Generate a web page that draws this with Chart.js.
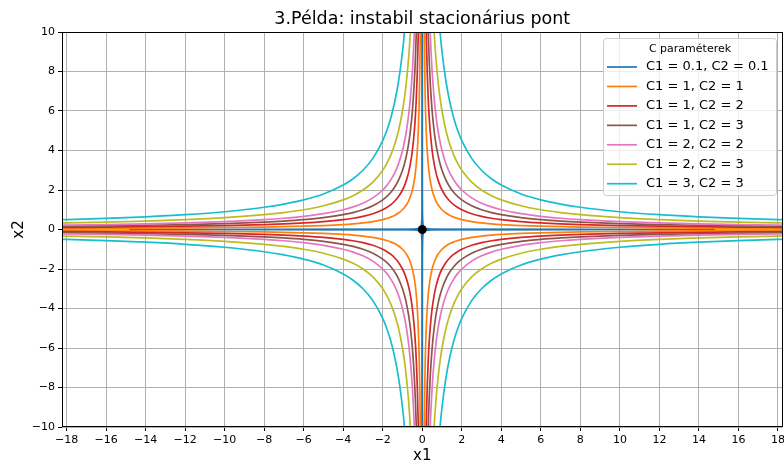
<!DOCTYPE html>
<html>
<head>
<meta charset="utf-8">
<script src="https://cdn.jsdelivr.net/npm/chart.js@4.4.1/dist/chart.umd.min.js"></script>
<style>
  html, body { margin: 0; padding: 0; background: #fff; overflow: hidden; }
</style>
</head>
<body>
<!-- 4px wider than the window: Chart.js reserves room for the "18" label, matplotlib lets it hang over -->
<canvas id="chart" width="788" height="464"></canvas>
<script>
// legend labels and colours
const labels = ['C1 = 0.1, C2 = 0.1', 'C1 = 1, C2 = 1', 'C1 = 1, C2 = 2', 'C1 = 1, C2 = 3',
                'C1 = 2, C2 = 2', 'C1 = 2, C2 = 3', 'C1 = 3, C2 = 3'];
const colors = ['#1f77b4', '#ff7f0e', '#d62728', '#8c564b', '#e377c2', '#bcbd22', '#17becf'];

// first quadrant branch of each curve (mirrored into the other three)
const blueX = [0.00067, 0.001, 0.002, 0.005, 0.01, 0.02, 0.05, 0.1, 0.2, 0.5, 1, 2, 5, 10, 14.8];
const blueY = [14.8, 10, 5, 2, 1, 0.5, 0.2, 0.1, 0.05, 0.02, 0.01, 0.005, 0.002, 0.001, 0.00068];

const xs = [0.05, 0.07, 0.1, 0.12, 0.15, 0.2, 0.25, 0.3, 0.35, 0.4, 0.5, 0.6, 0.7, 0.8, 0.9, 1,
            1.2, 1.4, 1.6, 1.8, 2, 2.5, 3, 3.5, 4, 5, 6, 7, 8, 10, 12, 14, 16, 19];
const y11 = [20, 14.286, 10, 8.333, 6.667, 5, 4, 3.333, 2.857, 2.5, 2, 1.667, 1.429, 1.25, 1.111, 1,
             0.833, 0.714, 0.625, 0.556, 0.5, 0.4, 0.333, 0.286, 0.25, 0.2, 0.167, 0.143, 0.125, 0.1, 0.083, 0.071, 0.0625, 0.053];
const y12 = [40, 28.571, 20, 16.667, 13.333, 10, 8, 6.667, 5.714, 5, 4, 3.333, 2.857, 2.5, 2.222, 2,
             1.667, 1.429, 1.25, 1.111, 1, 0.8, 0.667, 0.571, 0.5, 0.4, 0.333, 0.286, 0.25, 0.2, 0.167, 0.143, 0.125, 0.105];
const y13 = [60, 42.857, 30, 25, 20, 15, 12, 10, 8.571, 7.5, 6, 5, 4.286, 3.75, 3.333, 3,
             2.5, 2.143, 1.875, 1.667, 1.5, 1.2, 1, 0.857, 0.75, 0.6, 0.5, 0.429, 0.375, 0.3, 0.25, 0.214, 0.1875, 0.158];
const y22 = [80, 57.143, 40, 33.333, 26.667, 20, 16, 13.333, 11.429, 10, 8, 6.667, 5.714, 5, 4.444, 4,
             3.333, 2.857, 2.5, 2.222, 2, 1.6, 1.333, 1.143, 1, 0.8, 0.667, 0.571, 0.5, 0.4, 0.333, 0.286, 0.25, 0.211];
const y23 = [120, 85.714, 60, 50, 40, 30, 24, 20, 17.143, 15, 12, 10, 8.571, 7.5, 6.667, 6,
             5, 4.286, 3.75, 3.333, 3, 2.4, 2, 1.714, 1.5, 1.2, 1, 0.857, 0.75, 0.6, 0.5, 0.429, 0.375, 0.316];
const y33 = [180, 128.571, 90, 75, 60, 45, 36, 30, 25.714, 22.5, 18, 15, 12.857, 11.25, 10, 9,
             7.5, 6.429, 5.625, 5, 4.5, 3.6, 3, 2.571, 2.25, 1.8, 1.5, 1.286, 1.125, 0.9, 0.75, 0.643, 0.5625, 0.474];

const xTicks = [-18, -16, -14, -12, -10, -8, -6, -4, -2, 0, 2, 4, 6, 8, 10, 12, 14, 16, 18];
const yTicks = [-10, -8, -6, -4, -2, 0, 2, 4, 6, 8, 10];

const curveX = [blueX, xs, xs, xs, xs, xs, xs];
const curveY = [blueY, y11, y12, y13, y22, y23, y33];
const quadrants = [[1, 1], [-1, 1], [1, -1], [-1, -1]];

const datasets = [];
labels.forEach((lab, i) => {
    quadrants.forEach(q => {
        datasets.push({
            label: lab,
            data: curveX[i].map((v, j) => ({ x: q[0] * v, y: q[1] * curveY[i][j] })),
            borderColor: colors[i],
            backgroundColor: colors[i],
            borderWidth: 1.7,
            showLine: true,
            pointRadius: 0,
            cubicInterpolationMode: 'monotone',
            capBezierPoints: false,
            clip: 0,
            order: 100 - i
        });
    });
});
// stationary point
datasets.push({
    label: 'origo',
    data: [{ x: 0, y: 0 }],
    pointRadius: 4,
    backgroundColor: '#000',
    borderColor: '#000',
    order: 0
});

const fmt = v => (v < 0 ? '\u2212' + Math.abs(v) : String(v));
const FONT = 'DejaVu Sans';

const decor = {
    id: 'decor',
    afterDatasetsDraw(chart) {
        const { ctx, chartArea: a } = chart;
        ctx.save();
        ctx.strokeStyle = '#000';
        ctx.lineWidth = 1;
        ctx.strokeRect(Math.round(a.left) + 0.5, Math.round(a.top) + 0.5,
                       Math.round(a.right - a.left) - 1, Math.round(a.bottom - a.top) - 1);
        ctx.restore();
    },
    afterDraw(chart) {
        const { ctx, chartArea: a } = chart;
        ctx.save();
        ctx.fillStyle = '#000';
        ctx.textAlign = 'center';
        ctx.textBaseline = 'middle';
        ctx.font = '17.5px "' + FONT + '"';
        ctx.fillText('3.Példa: instabil stacionárius pont', (a.left + a.right) / 2, 19);
        ctx.font = '15px "' + FONT + '"';
        ctx.fillText('x1', (a.left + a.right) / 2, 456);
        ctx.save();
        ctx.translate(19, (a.top + a.bottom) / 2);
        ctx.rotate(-Math.PI / 2);
        ctx.fillText('x2', 0, 0);
        ctx.restore();

        // legend box
        const bx = 603.5, by = 38.5, bw = 173, bh = 157, r = 3;
        ctx.beginPath();
        ctx.moveTo(bx + r, by);
        ctx.arcTo(bx + bw, by, bx + bw, by + bh, r);
        ctx.arcTo(bx + bw, by + bh, bx, by + bh, r);
        ctx.arcTo(bx, by + bh, bx, by, r);
        ctx.arcTo(bx, by, bx + bw, by, r);
        ctx.closePath();
        ctx.fillStyle = 'rgba(255,255,255,0.8)';
        ctx.fill();
        ctx.strokeStyle = '#cccccc';
        ctx.lineWidth = 1;
        ctx.stroke();

        ctx.fillStyle = '#000';
        ctx.font = '11px "' + FONT + '"';
        ctx.fillText('C paraméterek', bx + bw / 2, 49);
        ctx.textAlign = 'left';
        ctx.font = '13px "' + FONT + '"';
        labels.forEach((lab, i) => {
            const yy = 67 + i * 19.45;
            ctx.strokeStyle = colors[i];
            ctx.lineWidth = 1.7;
            ctx.beginPath();
            ctx.moveTo(607, yy);
            ctx.lineTo(637, yy);
            ctx.stroke();
            ctx.fillText(lab, 646, yy);
        });
        ctx.restore();
    }
};

new Chart(document.getElementById('chart'), {
    type: 'scatter',
    data: { datasets: datasets },
    options: {
        responsive: false,
        animation: false,
        devicePixelRatio: 1,
        layout: { padding: { top: 32, right: 1, bottom: 0, left: 0 } },
        plugins: { legend: { display: false }, tooltip: { enabled: false }, title: { display: false } },
        scales: {
            x: {
                type: 'linear',
                min: -18.23,
                max: 18.23,
                afterBuildTicks: s => { s.ticks = xTicks.map(v => ({ value: v })); },
                afterFit: s => { s.height = 37; },
                grid: { color: '#b0b0b0', lineWidth: 1, tickLength: 4, tickColor: '#000' },
                border: { display: false },
                ticks: {
                    color: '#000', padding: 3, maxRotation: 0, autoSkip: false,
                    font: { family: FONT, size: 11 },
                    callback: v => fmt(v)
                }
            },
            y: {
                type: 'linear',
                min: -10,
                max: 10,
                afterBuildTicks: s => { s.ticks = yTicks.map(v => ({ value: v })); },
                afterFit: s => { s.width = 62; },
                grid: { color: '#b0b0b0', lineWidth: 1, tickLength: 4, tickColor: '#000' },
                border: { display: false },
                ticks: {
                    color: '#000', padding: 3, autoSkip: false,
                    font: { family: FONT, size: 11 },
                    callback: v => fmt(v)
                }
            }
        }
    },
    plugins: [decor]
});
</script>
</body>
</html>
